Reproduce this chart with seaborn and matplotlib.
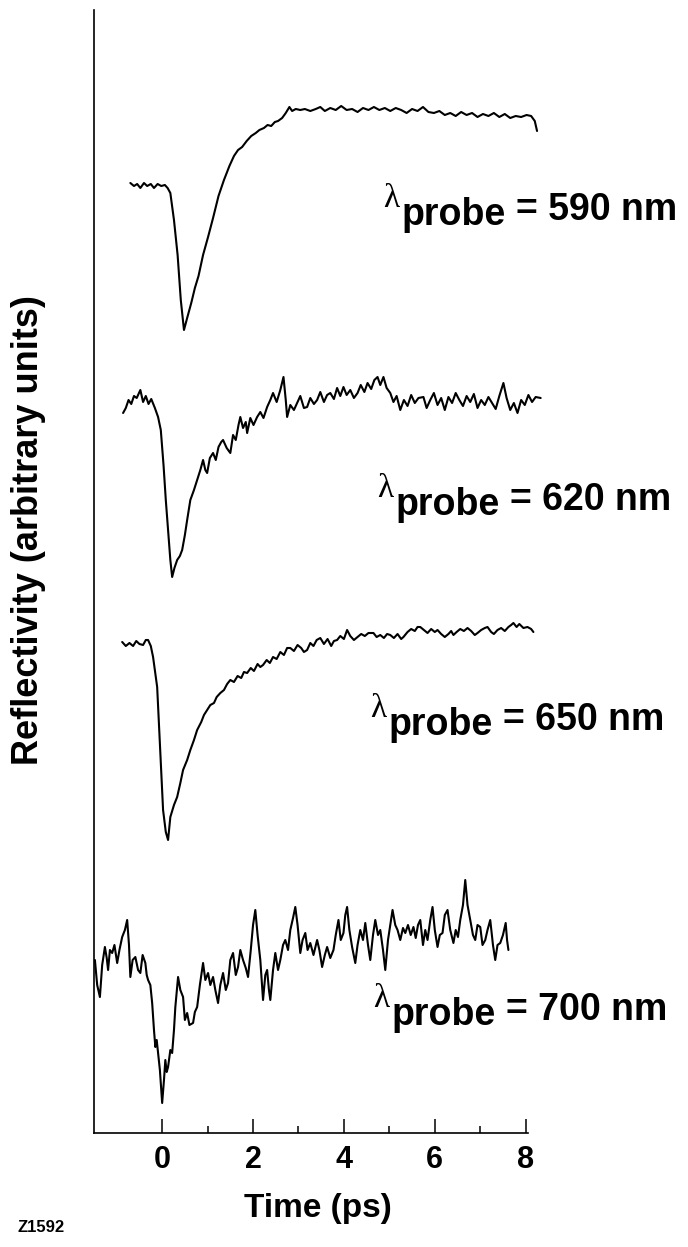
import numpy as np
import pandas as pd
import matplotlib
matplotlib.use("Agg")
import matplotlib.pyplot as plt
import seaborn as sns

# Probe wavelengths (nm) and vertical offsets of each stacked trace (arb. units)
wavelengths = [590, 620, 650, 700]
offsets = [94.8, 72.8, 49.0, 17.3]

# Pump-probe delay (ps) and reflectivity change (arb. units) for each probe
t_590 = [-0.70, -0.62, -0.55, -0.48, -0.40, -0.33, -0.25, -0.18, -0.10, -0.02,
         0.06, 0.12, 0.18, 0.26, 0.34, 0.41, 0.48, 0.55, 0.64, 0.72,
         0.80, 0.90, 1.01, 1.12, 1.24, 1.36, 1.48, 1.58, 1.67, 1.76,
         1.86, 1.96, 2.06, 2.14, 2.24, 2.32, 2.40, 2.48, 2.55, 2.64,
         2.72, 2.80, 2.86, 2.94, 3.04, 3.14, 3.26, 3.38, 3.48, 3.58,
         3.70, 3.82, 3.94, 4.06, 4.18, 4.30, 4.42, 4.54, 4.66, 4.78,
         4.90, 5.02, 5.14, 5.26, 5.38, 5.50, 5.62, 5.74, 5.86, 5.98,
         6.10, 6.22, 6.34, 6.46, 6.58, 6.70, 6.82, 6.94, 7.06, 7.18,
         7.30, 7.42, 7.54, 7.66, 7.78, 7.90, 8.02, 8.12, 8.20, 8.25]
r_590 = [0.2, -0.1, 0.1, -0.3, 0.2, -0.1, 0.1, -0.3, 0.1, -0.1,
         0.0, -0.3, -0.8, -3.5, -7.0, -11.5, -14.5, -13.3, -11.8, -10.3,
         -9.1, -7.0, -5.2, -3.3, -1.1, 0.5, 1.9, 2.9, 3.5, 3.8,
         4.4, 4.9, 5.2, 5.5, 5.7, 6.0, 5.9, 6.3, 6.4, 6.7,
         7.2, 7.8, 7.4, 7.6, 7.5, 7.6, 7.4, 7.6, 7.8, 7.4,
         7.7, 7.5, 7.9, 7.5, 7.6, 7.3, 7.7, 7.5, 7.8, 7.5,
         7.7, 7.4, 7.7, 7.5, 7.2, 7.6, 7.4, 7.8, 7.3, 7.2,
         7.4, 7.0, 7.2, 6.9, 7.3, 7.0, 7.2, 6.8, 7.1, 6.9,
         7.2, 6.8, 7.1, 6.7, 6.9, 6.8, 7.0, 6.9, 6.4, 5.4]

t_620 = [-0.86, -0.80, -0.74, -0.68, -0.62, -0.56, -0.48, -0.42, -0.36, -0.30,
         -0.24, -0.16, -0.09, -0.03, 0.03, 0.08, 0.13, 0.18, 0.22, 0.27,
         0.33, 0.39, 0.44, 0.50, 0.55, 0.62, 0.70, 0.77, 0.84, 0.90,
         0.95, 0.99, 1.05, 1.12, 1.18, 1.24, 1.30, 1.34, 1.42, 1.50,
         1.56, 1.62, 1.68, 1.72, 1.78, 1.84, 1.87, 1.94, 2.01, 2.09,
         2.16, 2.23, 2.31, 2.38, 2.44, 2.52, 2.60, 2.67, 2.72, 2.75,
         2.82, 2.90, 2.97, 3.04, 3.12, 3.19, 3.26, 3.34, 3.41, 3.48,
         3.56, 3.63, 3.70, 3.78, 3.85, 3.92, 3.99, 4.06, 4.14, 4.22,
         4.30, 4.37, 4.45, 4.52, 4.60, 4.67, 4.74, 4.80, 4.87, 4.94,
         5.02, 5.09, 5.16, 5.24, 5.32, 5.40, 5.48, 5.56, 5.64, 5.75,
         5.82, 5.90, 5.98, 6.06, 6.14, 6.22, 6.30, 6.38, 6.46, 6.54,
         6.62, 6.70, 6.78, 6.86, 6.94, 7.02, 7.10, 7.18, 7.26, 7.34,
         7.42, 7.51, 7.58, 7.66, 7.74, 7.82, 7.90, 7.98, 8.06, 8.14,
         8.22, 8.33]
r_620 = [-0.8, -0.3, 0.5, 0.1, 0.9, 0.7, 1.5, 0.3, 0.9, 0.1,
         0.6, -0.3, -1.2, -2.5, -6.0, -9.5, -12.5, -15.5, -17.2, -16.3,
         -15.5, -15.1, -14.5, -13.0, -11.5, -9.5, -8.5, -7.5, -6.5, -5.5,
         -6.5, -6.8, -5.3, -4.8, -5.5, -4.2, -3.7, -3.5, -4.3, -4.8,
         -3.0, -3.5, -2.0, -1.2, -2.3, -1.7, -2.8, -1.3, -2.0, -1.2,
         -0.7, -1.3, -0.2, 0.5, 1.2, 0.3, 1.5, 2.8, 0.5, -1.2,
         0.0, -0.5, 0.2, 0.9, -0.3, -0.2, 0.7, 0.1, 0.5, 1.3,
         0.3, 1.0, 1.2, 0.6, 1.7, 0.9, 1.8, 1.0, 1.5, 0.7,
         1.2, 2.0, 1.3, 2.2, 1.6, 2.5, 2.8, 2.0, 2.8, 1.7,
         1.2, 0.3, 0.9, -0.5, 0.5, -0.1, 1.0, 0.2, 0.7, 0.8,
         -0.3, 0.5, 1.2, 0.0, 0.7, -0.5, 0.8, 0.2, 1.2, 0.5,
         -0.1, 0.9, 0.3, 1.1, -0.3, 0.5, 0.0, 0.8, 0.2, -0.4,
         0.9, 2.2, 0.7, -0.5, 0.2, -0.8, 0.5, 0.0, 1.0, 0.3,
         0.8, 0.7]

t_650 = [-0.88, -0.80, -0.72, -0.64, -0.57, -0.50, -0.42, -0.36, -0.31, -0.25,
         -0.20, -0.11, -0.04, 0.02, 0.08, 0.13, 0.18, 0.26, 0.33, 0.40,
         0.46, 0.55, 0.62, 0.70, 0.77, 0.86, 0.92, 0.99, 1.06, 1.14,
         1.20, 1.28, 1.36, 1.43, 1.50, 1.58, 1.66, 1.74, 1.80, 1.87,
         1.95, 2.02, 2.10, 2.16, 2.22, 2.30, 2.37, 2.44, 2.52, 2.60,
         2.68, 2.75, 2.82, 2.90, 2.98, 3.06, 3.12, 3.19, 3.26, 3.33,
         3.40, 3.48, 3.56, 3.64, 3.72, 3.78, 3.85, 3.92, 4.00, 4.07,
         4.14, 4.22, 4.30, 4.38, 4.46, 4.54, 4.65, 4.72, 4.80, 4.88,
         4.95, 5.02, 5.10, 5.18, 5.26, 5.31, 5.40, 5.48, 5.56, 5.62,
         5.68, 5.76, 5.84, 5.92, 6.00, 6.06, 6.14, 6.22, 6.30, 6.36,
         6.41, 6.48, 6.56, 6.64, 6.72, 6.80, 6.88, 6.94, 7.02, 7.10,
         7.16, 7.24, 7.30, 7.38, 7.46, 7.54, 7.62, 7.68, 7.73, 7.80,
         7.86, 7.95, 8.04, 8.12, 8.17]
r_650 = [0.1, -0.3, 0.0, -0.3, 0.2, -0.1, -0.2, 0.3, 0.3, -0.3,
         -1.4, -4.4, -11.0, -16.7, -18.9, -19.7, -17.4, -16.2, -15.4, -14.0,
         -12.7, -11.7, -10.7, -9.7, -8.7, -7.9, -7.2, -6.7, -6.2, -6.0,
         -5.4, -5.0, -4.7, -4.1, -3.7, -3.9, -3.3, -3.5, -2.9, -3.0,
         -2.5, -2.8, -2.1, -2.4, -2.2, -1.7, -2.0, -1.4, -1.6, -0.9,
         -1.2, -0.5, -0.5, -0.8, -0.2, -0.5, -0.9, -0.7, 0.0, -0.3,
         0.3, 0.5, -0.1, 0.4, -0.3, 0.2, 0.3, 0.7, 0.4, 1.3,
         0.7, 0.3, 0.6, 0.9, 0.7, 1.0, 1.0, 0.6, 0.8, 0.5,
         0.9, 0.8, 0.5, 0.9, 0.4, 0.6, 1.1, 1.4, 1.2, 1.6,
         1.6, 1.3, 1.0, 1.4, 1.1, 1.3, 0.9, 0.6, 0.9, 1.2,
         0.8, 1.1, 1.4, 1.2, 1.5, 1.2, 0.8, 1.0, 1.3, 1.5,
         1.6, 1.1, 0.9, 1.3, 1.5, 1.2, 1.6, 1.8, 2.0, 1.6,
         1.9, 1.5, 1.6, 1.4, 1.1]

t_700 = [-1.48, -1.43, -1.37, -1.32, -1.26, -1.22, -1.19, -1.15, -1.10, -1.05,
         -0.99, -0.94, -0.88, -0.82, -0.77, -0.73, -0.70, -0.65, -0.59, -0.53,
         -0.48, -0.43, -0.37, -0.34, -0.31, -0.26, -0.22, -0.18, -0.15, -0.12,
         -0.09, -0.05, 0.00, 0.04, 0.07, 0.10, 0.13, 0.18, 0.22, 0.26,
         0.29, 0.35, 0.40, 0.46, 0.50, 0.55, 0.60, 0.68, 0.72, 0.77,
         0.83, 0.90, 0.95, 1.01, 1.06, 1.12, 1.17, 1.23, 1.28, 1.34,
         1.40, 1.45, 1.50, 1.56, 1.62, 1.67, 1.72, 1.78, 1.84, 1.89,
         1.95, 2.00, 2.05, 2.10, 2.16, 2.22, 2.27, 2.31, 2.35, 2.38,
         2.44, 2.49, 2.55, 2.60, 2.66, 2.71, 2.77, 2.82, 2.88, 2.93,
         2.98, 3.04, 3.09, 3.15, 3.20, 3.26, 3.33, 3.41, 3.46, 3.52,
         3.58, 3.63, 3.70, 3.77, 3.82, 3.88, 3.93, 3.99, 4.03, 4.07,
         4.12, 4.18, 4.25, 4.30, 4.36, 4.42, 4.47, 4.53, 4.58, 4.64,
         4.69, 4.75, 4.80, 4.86, 4.91, 4.97, 5.02, 5.07, 5.13, 5.18,
         5.24, 5.30, 5.35, 5.41, 5.47, 5.53, 5.58, 5.63, 5.68, 5.74,
         5.79, 5.84, 5.90, 5.95, 6.00, 6.06, 6.11, 6.17, 6.22, 6.28,
         6.34, 6.41, 6.46, 6.51, 6.56, 6.62, 6.67, 6.72, 6.78, 6.84,
         6.89, 6.94, 7.00, 7.05, 7.11, 7.16, 7.22, 7.28, 7.33, 7.38,
         7.44, 7.50, 7.56, 7.59, 7.62]
r_700 = [0.0, -2.5, -3.7, -0.5, 1.3, 0.2, -1.0, 1.0, 0.7, 1.5,
         -0.3, 1.0, 2.3, 3.0, 4.0, 1.5, -1.7, 0.0, 0.3, -1.0,
         -1.3, 0.5, -0.3, -1.5, -2.0, -2.5, -4.3, -7.0, -8.7, -8.0,
         -9.3, -11.0, -14.3, -12.0, -10.0, -11.2, -10.7, -9.0, -9.3, -7.0,
         -4.7, -1.7, -3.0, -3.7, -6.0, -5.3, -6.5, -6.3, -5.2, -4.7,
         -2.5, -0.3, -2.0, -1.3, -2.5, -1.7, -3.0, -4.3, -2.5, -1.3,
         -3.0, -2.3, 0.0, 0.7, -1.5, -0.7, 1.0, 0.0, -0.8, -1.7,
         1.0, 3.5, 5.0, 2.5, 0.0, -4.0, -1.5, -1.0, -3.0, -4.0,
         -1.0, 0.7, -1.0, 0.0, 1.5, 2.0, 1.0, 3.0, 4.2, 5.3,
         3.5, 0.7, 2.0, 2.7, 1.0, 1.7, 0.5, 2.0, 1.0, -0.7,
         0.5, 1.3, 0.2, 1.0, 2.5, 4.0, 2.0, 2.7, 4.5, 5.3,
         3.0, 1.3, -0.3, 1.5, 3.0, 2.0, 3.7, 1.5, 0.0, 2.5,
         4.0, 2.5, 3.0, 1.0, -1.0, 2.0, 3.5, 5.0, 3.5, 3.0,
         2.0, 3.2, 2.7, 3.5, 2.5, 3.3, 2.2, 3.5, 4.0, 1.5,
         3.0, 2.0, 4.0, 5.3, 3.0, 1.3, 2.5, 2.7, 4.5, 5.0,
         3.0, 1.7, 3.0, 2.3, 4.0, 5.5, 8.0, 5.5, 4.0, 2.5,
         2.0, 3.5, 3.3, 1.5, 2.0, 3.0, 4.0, 1.5, 0.0, 1.5,
         1.7, 2.5, 3.7, 2.0, 1.0]

times = [t_590, t_620, t_650, t_700]
signals = [r_590, r_620, r_650, r_700]

xtick_major = [0, 2, 4, 6, 8]
xtick_minor = [1, 3, 5, 7]

frames = []
for lam, off, t, r in zip(wavelengths, offsets, times, signals):
    frames.append(pd.DataFrame({"time": t,
                                "reflectivity": np.asarray(r) + off,
                                "probe": lam}))
df = pd.concat(frames, ignore_index=True)

sns.set_style("ticks")
plt.rcParams["font.family"] = ["Liberation Sans", "DejaVu Sans"]
plt.rcParams.update({"text.color": "black", "axes.labelcolor": "black",
                     "xtick.color": "black", "ytick.color": "black",
                     "axes.edgecolor": "black"})

W, H = 688, 1247
fig = plt.figure(figsize=(W / 100, H / 100), dpi=100)
ax = fig.add_axes([94 / W, (H - 1133) / H, 433.5 / W, 1123 / H])

sns.lineplot(data=df, x="time", y="reflectivity", units="probe",
             estimator=None, sort=False, color="black", linewidth=1.5,
             legend=False, ax=ax)
for line in ax.lines:
    line.set_clip_on(False)

ax.set_xlim(-1.5, 8.04)
ax.set_ylim(0, 112.3)
ax.set_xticks(xtick_major)
ax.set_xticks(xtick_minor, minor=True)
ax.set_xticklabels([str(v) for v in xtick_major], fontsize=22, fontweight="bold",
                   color="black")
ax.set_yticks([])
ax.tick_params(axis="x", which="major", direction="in", length=10, width=1.1,
               pad=9, colors="black")
ax.tick_params(axis="x", which="minor", direction="in", length=5, width=1.1,
               colors="black")
for side in ("top", "right"):
    ax.spines[side].set_visible(False)
for side in ("left", "bottom"):
    ax.spines[side].set_linewidth(1.2)
    ax.spines[side].set_color("black")

ax.set_xlabel("Time (ps)", fontsize=24, fontweight="bold", color="black")
ax.xaxis.set_label_coords((318 - 94) / 433.5, (1133 - 1193) / 1123)
ax.set_ylabel("Reflectivity (arbitrary units)", fontsize=26, fontweight="bold",
              color="black")
ax.yaxis.set_label_coords((46 - 94) / 433.5, (1133 - 530) / 1123)


def fig_xy(x, y):
    return x / W, 1 - y / H


# Wavelength annotations: lambda, subscript "probe", then the value
label_anchor = [(383, 220), (377, 510), (370, 730), (373, 1020)]
for lam, (x0, yb) in zip(wavelengths, label_anchor):
    fig.text(*fig_xy(x0, yb - 13), "\u03bb", family=["Liberation Serif", "DejaVu Serif"],
             fontsize=24, va="baseline", ha="left", color="black")
    fig.text(*fig_xy(x0 + 19, yb + 5), "probe", fontsize=27, fontweight="bold",
             va="baseline", ha="left", color="black")
    fig.text(*fig_xy(x0 + 133, yb), f"= {lam} nm", fontsize=27, fontweight="bold",
             va="baseline", ha="left", color="black")

fig.text(*fig_xy(18, 1232), "Z1592", fontsize=12, fontweight="bold",
         va="baseline", ha="left", color="black")

fig.savefig("out.png", dpi=100, facecolor="white")
